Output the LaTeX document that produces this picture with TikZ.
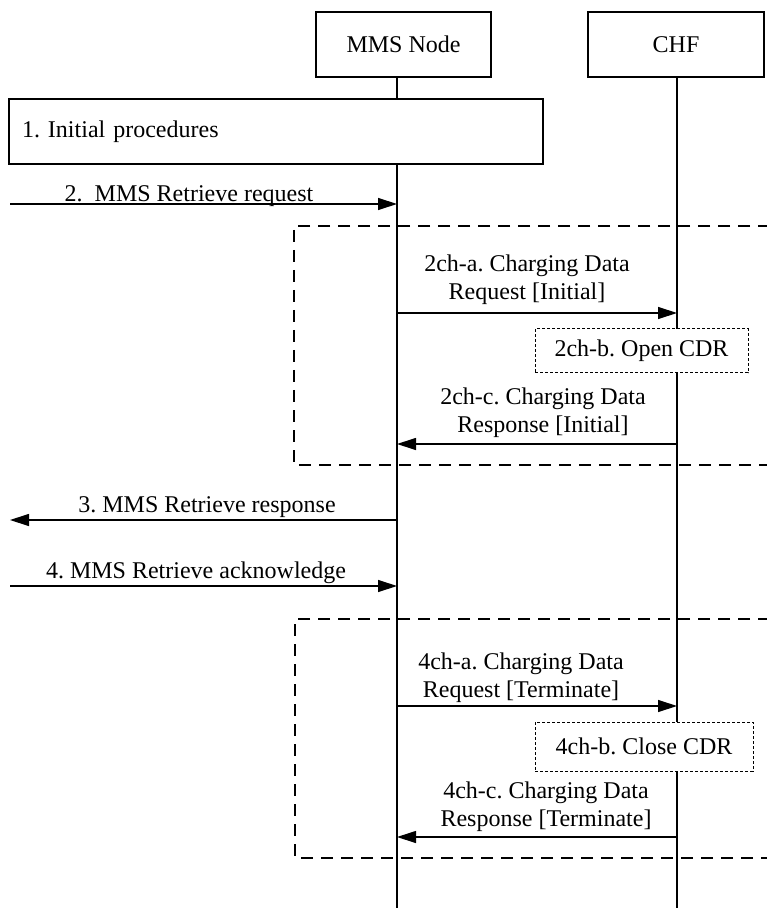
\documentclass[tikz,border=0pt]{standalone}
\usepackage{fontspec}
\setmainfont{Liberation Serif}
\usetikzlibrary{arrows.meta}
\begin{document}
\frenchspacing
\begin{tikzpicture}[x=0.5pt,y=-0.5pt,
  font=\fontsize{12}{14}\selectfont,
  entity/.style={draw, line width=0.6pt, fill=white, minimum width=87.5pt, minimum height=32.5pt, inner sep=0pt},
  lifeline/.style={line width=0.8pt},
  msg/.style={line width=0.6pt, -{Triangle[length=9.5pt,width=6pt]}},
  frame/.style={line width=1pt, dash pattern=on 6pt off 4pt},
  action/.style={draw, line width=0.5pt, dash pattern=on 1.5pt off 1pt, fill=white, inner sep=0pt},
  lbl/.style={inner sep=0pt, align=center}]
\useasboundingbox (0,0) rectangle (766,908);

% entities
\node[entity] (mms) at (403.5,44.5) {MMS Node};
\node[entity, minimum width=88pt] (chf) at (676,44.5) {CHF};
\coordinate (mmsEnd) at (397,908);
\coordinate (chfEnd) at (677,908);
\draw[lifeline] (mms.south -| mmsEnd) -- (mmsEnd);
\draw[lifeline] (chf.south -| chfEnd) -- (chfEnd);

% dashed frames
\draw[frame] (770,226) -- (294,226) -- (294,465) -- (770,465);
\draw[frame] (770,619) -- (295,619) -- (295,858) -- (770,858);

% 1. Initial procedures
\node[entity, minimum width=267pt, text width=254pt, align=left, inner xsep=6.5pt] (init) at (276,131.5) {1. Initial procedures};

% 2
\coordinate (l2) at (10,204);
\draw[msg] (l2) -- (l2 -| mmsEnd);
\node[lbl, anchor=base] (t2) at (189,202) {2.\ \ MMS Retrieve request};

% 2ch-a
\coordinate (y2a) at (0,313);
\draw[msg] (y2a -| mmsEnd) -- (y2a -| chfEnd);
\node[lbl, anchor=south] (t2a) at (527,305) {2ch-a. Charging Data\\Request [Initial]};

% 2ch-b
\node[action, minimum width=106.5pt, minimum height=22pt] (b2) at (641.5,351) {2ch-b. Open CDR};

% 2ch-c
\coordinate (y2c) at (0,444);
\draw[msg] (y2c -| chfEnd) -- (y2c -| mmsEnd);
\node[lbl, anchor=south] (t2c) at (543,438) {2ch-c. Charging Data\\Response [Initial]};

% 3
\coordinate (l3) at (10,520);
\draw[msg] (l3 -| mmsEnd) -- (l3);
\node[lbl, anchor=base] (t3) at (207,512) {3. MMS Retrieve response};

% 4
\coordinate (l4) at (10,586);
\draw[msg] (l4) -- (l4 -| mmsEnd);
\node[lbl, anchor=base] (t4) at (196,578) {4. MMS Retrieve acknowledge};

% 4ch-a
\coordinate (y4a) at (0,706);
\draw[msg] (y4a -| mmsEnd) -- (y4a -| chfEnd);
\node[lbl, anchor=south] (t4a) at (521,703) {4ch-a. Charging Data\\Request [Terminate]};

% 4ch-b
\node[action, minimum width=109pt, minimum height=24.5pt] (b4) at (644,746.5) {4ch-b. Close CDR};

% 4ch-c
\coordinate (y4c) at (0,837);
\draw[msg] (y4c -| chfEnd) -- (y4c -| mmsEnd);
\node[lbl, anchor=south] (t4c) at (546,832) {4ch-c. Charging Data\\Response [Terminate]};
\end{tikzpicture}
\end{document}
